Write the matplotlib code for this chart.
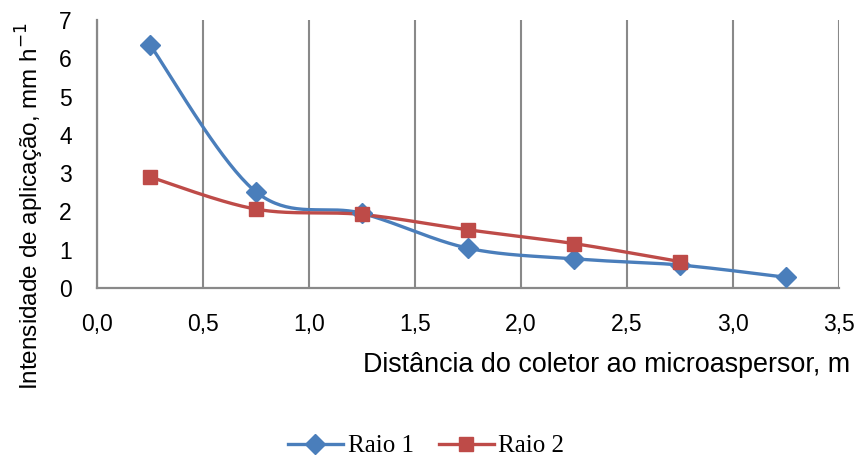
import numpy as np
import matplotlib
matplotlib.use("Agg")
import matplotlib.pyplot as plt
from matplotlib.lines import Line2D

# Distance from collector to micro-sprinkler (m) and application rate (mm/h)
dist_r1 = [0.25, 0.75, 1.25, 1.75, 2.25, 2.75, 3.25]
raio1 = [6.35, 2.51, 1.95, 1.04, 0.76, 0.60, 0.28]
dist_r2 = [0.25, 0.75, 1.25, 1.75, 2.25, 2.75]
raio2 = [2.90, 2.06, 1.92, 1.52, 1.16, 0.69]
x_ticks = [0.0, 0.5, 1.0, 1.5, 2.0, 2.5, 3.0, 3.5]
y_ticks = [0, 1, 2, 3, 4, 5, 6, 7]

BLUE = "#4A7EBB"
RED = "#BE4B48"
GRID = "#898989"


def smooth_curve(xs, ys, n=40):
    """Catmull-Rom style Bezier smoothing through the given points."""
    p = np.column_stack([xs, ys]).astype(float)
    out = [p[0]]
    for i in range(len(p) - 1):
        p0 = p[i - 1] if i > 0 else p[i]
        p1 = p[i]
        p2 = p[i + 1]
        p3 = p[i + 2] if i + 2 < len(p) else p[i + 1]
        c1 = p1 + (p2 - p0) / 6.0
        c2 = p2 - (p3 - p1) / 6.0
        t = np.linspace(0, 1, n)[1:, None]
        seg = ((1 - t) ** 3) * p1 + 3 * ((1 - t) ** 2) * t * c1 \
            + 3 * (1 - t) * t ** 2 * c2 + t ** 3 * p2
        out.extend(seg)
    out = np.array(out)
    return out[:, 0], out[:, 1]


fig = plt.figure(figsize=(8.58, 4.62), dpi=100)
ax = fig.add_axes([97 / 858, (462 - 288) / 462, (839 - 97) / 858, (288 - 20) / 462])

sans = "Liberation Sans"
serif = "Liberation Serif"

for xs, ys, col, mk, ms in [(dist_r1, raio1, BLUE, "D", 10),
                            (dist_r2, raio2, RED, "s", 10.5)]:
    sx, sy = smooth_curve(xs, ys)
    ax.plot(sx, sy, color=col, lw=2.4, solid_capstyle="round", zorder=3)
    ax.plot(xs, ys, linestyle="none", marker=mk, markersize=ms,
            color=col, markeredgecolor=col, zorder=4)

ax.set_xlim(0, 3.5)
ax.set_ylim(0, 7)
ax.set_xticks(x_ticks)
ax.set_xticklabels([f"{v:.1f}".replace(".", ",") for v in x_ticks],
                   fontname=sans, fontsize=16.5)
ax.set_yticks(y_ticks)
ax.set_yticklabels([str(v) for v in y_ticks], fontname=sans, fontsize=16.5)
ax.tick_params(axis="both", length=0, colors="black")
ax.tick_params(axis="x", pad=18)
ax.tick_params(axis="y", pad=18)

ax.grid(axis="x", color=GRID, lw=1.5)
ax.set_axisbelow(True)
for s in ["top", "right"]:
    ax.spines[s].set_visible(False)
for s in ["left", "bottom"]:
    ax.spines[s].set_color(GRID)
    ax.spines[s].set_linewidth(1.6)

fig.text(607 / 858, 1 - 365 / 462, "Distância do coletor ao microaspersor, m",
         ha="center", va="center", fontname=sans, fontsize=19.4)
fig.text(30 / 858, 1 - 206 / 462, "Intensidade de aplicação, mm h$^{\\mathsf{-1}}$",
         ha="center", va="center", rotation=90, fontname=sans, fontsize=17.5)

handles = [Line2D([], [], color=BLUE, lw=2.4, marker="D", markersize=10),
           Line2D([], [], color=RED, lw=2.4, marker="s", markersize=10.5)]
fig.legend(handles, ["Raio 1", "Raio 2"], loc="center",
           bbox_to_anchor=(426 / 858, 1 - 446 / 462), ncol=2, frameon=False,
           prop={"family": serif, "size": 18}, handlelength=2.2,
           handletextpad=0.2, columnspacing=1.0)

fig.savefig("out.png", dpi=100)
